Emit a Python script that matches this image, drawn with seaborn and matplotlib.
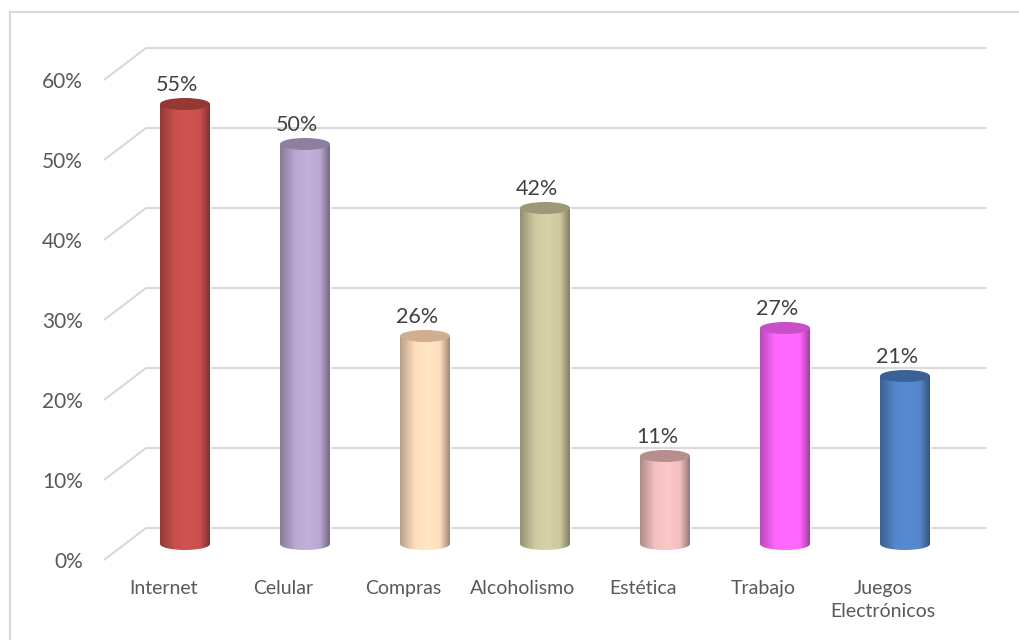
import numpy as np
import pandas as pd
import matplotlib
matplotlib.use("Agg")
import matplotlib.pyplot as plt
import seaborn as sns
from matplotlib.colors import LinearSegmentedColormap, to_rgb
from matplotlib.patches import Ellipse
from matplotlib.lines import Line2D

categories = ["Internet", "Celular", "Compras", "Alcoholismo", "Estética", "Trabajo", "Juegos\nElectrónicos"]
values = [55, 50, 26, 42, 11, 27, 21]
body_colors = ["#C9504D", "#BBA8D2", "#FFDDBD", "#CFC9A1", "#F2C0C0", "#FF66FF", "#5486CA"]
top_colors = ["#953735", "#8C7FA0", "#D2AE91", "#9E9876", "#B88E8D", "#C94FC9", "#3A6296"]
tick_values = [0, 10, 20, 30, 40, 50, 60]
tick_labels = ["0%", "10%", "20%", "30%", "40%", "50%", "60%"]

sns.set_theme(style="white")
plt.rcParams["font.family"] = ["Lato", "DejaVu Sans"]

W, H = 1019, 640
fig = plt.figure(figsize=(W / 100, H / 100), dpi=100)
ax = fig.add_axes([0, 0, 1, 1])

df = pd.DataFrame({"cat": categories, "val": values})
sns.barplot(data=df, x="cat", y="val", hue="cat", palette=body_colors, legend=False,
            width=50 / 120, ax=ax, zorder=3, saturation=1)
# pixel mapping: x px = 185 + 120*i ; y px = 544 - 8*value
ax.set_xlim((0 - 185) / 120, (W - 185) / 120)
ax.set_ylim((544 - H) / 8, (544 - 0) / 8)
ax.axis("off")

# perspective gridlines
depth = 2.0
grid_c = "#D9D9D9"
for v in tick_values:
    ax.plot([-0.675, -0.325, 6.675], [v - depth, v + depth, v + depth],
            color=grid_c, lw=1.5, zorder=1, solid_capstyle="butt")

ell_h = 1.5
for i, (p, bc, tc, v) in enumerate(zip(ax.patches, body_colors, top_colors, values)):
    x0 = p.get_x()
    w = p.get_width()
    base = np.array(to_rgb(bc))
    dark_l = base * 0.72
    dark_r = base * 0.62
    light = np.clip(base * 1.04, 0, 1)
    cmap = LinearSegmentedColormap.from_list(
        f"c{i}", [(0, dark_l), (0.3, base), (0.55, light), (0.8, base), (1, dark_r)])
    grad = np.linspace(0, 1, 256).reshape(1, -1)
    bottom = Ellipse((x0 + w / 2, 0), w, ell_h, facecolor="none", edgecolor="none", zorder=3)
    ax.add_patch(bottom)
    for clip in (p, bottom):
        im = ax.imshow(grad, cmap=cmap, aspect="auto",
                       extent=[x0, x0 + w, -ell_h, v + ell_h], zorder=3.5, interpolation="bilinear")
        im.set_clip_path(clip)
    top = Ellipse((x0 + w / 2, v), w, ell_h, facecolor=tc, edgecolor="none", zorder=4)
    ax.add_patch(top)
    ax.text(x0 + w / 2 - 0.067, v + 2.4, f"{v}%", ha="center", va="center",
            fontsize=15.5, color="#404040", zorder=5)
    ax.text(i - 0.183, -4.45, categories[i], ha="center", va="top",
            fontsize=14, color="#595959", linespacing=1.45, zorder=5)

for v, lab in zip(tick_values, tick_labels):
    ax.text(-0.85, v - depth - 0.25, lab, ha="right", va="center",
            fontsize=15, color="#595959")

# outer frame (left and top)
fig.add_artist(Line2D([9.5 / W, 9.5 / W], [0, 1 - 11.5 / H], color="#D9D9D9", lw=1.5,
                      transform=fig.transFigure))
fig.add_artist(Line2D([9.5 / W, 1], [1 - 11.5 / H, 1 - 11.5 / H], color="#D9D9D9", lw=1.5,
                      transform=fig.transFigure))

fig.savefig("out.png", dpi=100, facecolor="white")
